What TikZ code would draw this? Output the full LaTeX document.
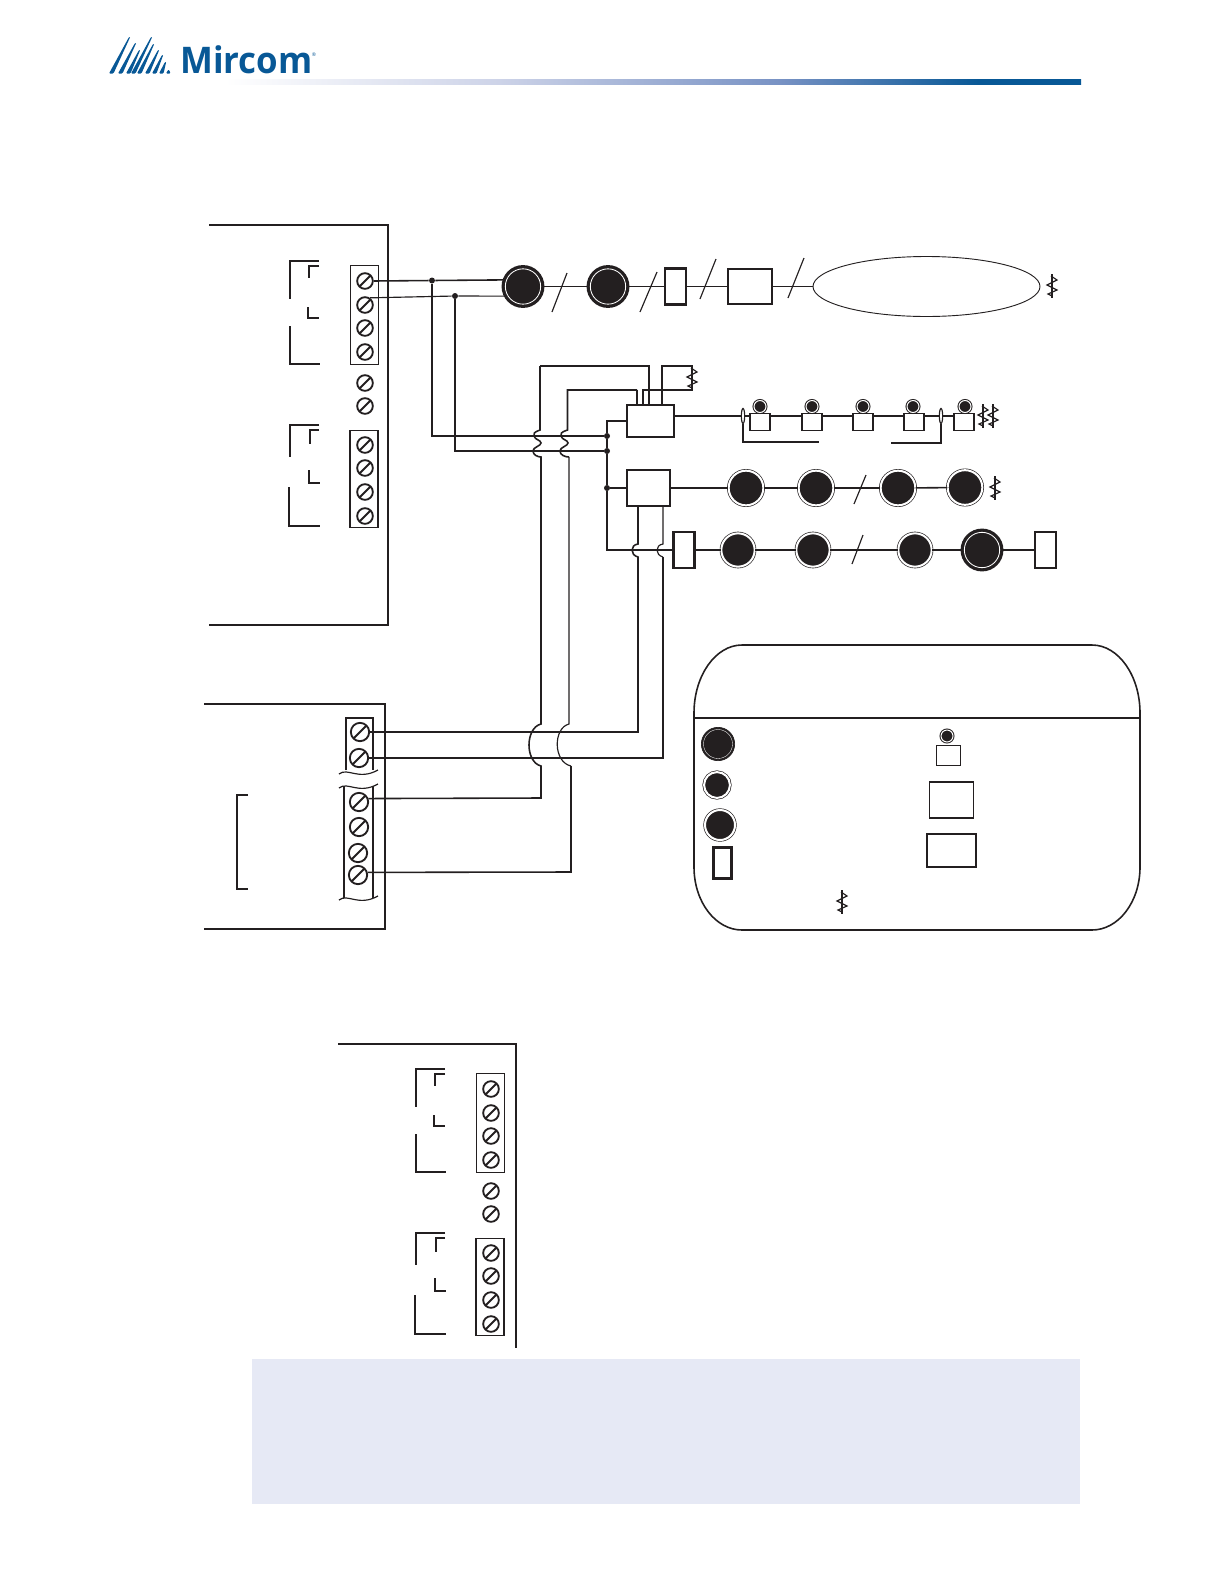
\documentclass[tikz,border=0pt]{standalone}
\usepackage{fontspec}
\setmainfont{Open Sans}
\usepackage{tikz}
\usetikzlibrary{shapes.geometric}
\definecolor{mirblue}{RGB}{8,88,150}
\definecolor{mirmid}{RGB}{120,146,196}
\definecolor{mirpale}{RGB}{205,211,232}
\definecolor{notefill}{RGB}{230,233,245}
\definecolor{devblack}{RGB}{35,31,32}
\pgfdeclarehorizontalshading{rulebar}{100bp}{color(0bp)=(white); color(25bp)=(white); color(41bp)=(mirpale); color(57.4bp)=(mirmid); color(69bp)=(mirblue); color(100bp)=(mirblue)}
\tikzset{
	wire/.style={devblack, line width=0.95pt},
	thinwire/.style={devblack, line width=0.7pt},
	slash/.style={devblack, line width=0.7pt},
	screw/.style={circle, draw=devblack, line width=1.1pt, inner sep=0pt, minimum size=9.4pt,
		path picture={\draw[devblack, line width=1.1pt](path picture bounding box.south west)--(path picture bounding box.north east);}},
	junction/.style={circle, fill=devblack, inner sep=0pt, minimum size=3.6pt},
	heavydev/.style={circle, fill=devblack, draw=devblack, line width=2pt, double=white, double distance=0.5pt, inner sep=0pt, minimum size=#1},
	ringdev/.style={circle, fill=devblack, draw=devblack, line width=0.4pt, double=white, double distance=1.2pt, inner sep=0pt, minimum size=#1},
	smalldet/.style={circle, fill=devblack, draw=devblack, line width=0.6pt, double=white, double distance=0.6pt, inner sep=0pt, minimum size=7.2pt},
	openbox/.style={rectangle, draw=devblack, line width=#1, fill=white, inner sep=0pt},
	pics/endres/.style={code={
		\draw[thinwire](0,-12)--(0,12);
		\draw[thinwire](-1,-10)--(5,-6)--(-5,-1)--(5,4)--(-4,8)--(0,10);
	}},
	pics/terms/.style={code={
		\node[openbox=0.55pt, minimum width=16.8pt, minimum height=59.4pt, fill=none](-top) at (364,315){};
		\node[openbox=0.7pt, minimum width=16.8pt, minimum height=58.2pt, fill=none](-low) at (364,479){};
		\foreach \y [count=\i] in {281,305,328,352}{\node[screw](-a\i) at (365,\y){};}
		\foreach \y [count=\i] in {383,406}{\node[screw](-f\i) at (365,\y){};}
		\foreach \y [count=\i] in {445,468,492,516}{\node[screw](-b\i) at (365,\y){};}
		\draw[wire](319,261)--(290,261)--(290,299);
		\draw[wire](290,326)--(290,364)--(320,364);
		\draw[wire](319,266)--(309,266)--(309,278);
		\draw[wire](308,307)--(308,318)--(319,318);
		\draw[wire](319,425)--(290,425)--(290,457);
		\draw[wire](289,487)--(289,526)--(320,526);
		\draw[wire](319,430)--(310,430)--(310,444);
		\draw[wire](309,470)--(309,483)--(320,483);
	}},
}

\begin{document}
\begin{tikzpicture}[x=0.6pt, y=-0.6pt]
\useasboundingbox (0,0) rectangle (1224,1584);

% header
\foreach \bx/\tx/\ty in {109/129/37,118/135/43,126/139/50,131/151/37,137/153/44,145/158/50,152/162/55,159/165/62,166/168/70}{
	\fill[mirblue, rounded corners=0.6pt](\bx,73.5)--(\bx+4.5,73.5)--(\tx+1.2,\ty)--(\tx,\ty)--cycle;
}
\node[inner sep=0pt, anchor=base west, text=mirblue, font=\fontsize{22}{22}\selectfont\bfseries](logotext) at (180,73){\scalebox{0.95}[1]{Mircom}};
\node[inner sep=0pt, text=mirblue, font=\fontsize{3}{3}\selectfont](logomark) at (314,55){®};
\shade[shading=rulebar](225,79) rectangle (1081,84);

% upper panel
\draw[wire](209,225)--(388,225)--(388,625)--(209,625);
\pic (pa) at (0,0) {terms};

% lower left panel
\draw[wire](204,704)--(385,704)--(385,929)--(204,929);
\draw[wire](346,770)--(346,718)--(373,718)--(373,770);
\draw[thinwire](344,786)--(344,898);
\draw[thinwire](373,786)--(373,898);
\foreach \y in {773,787,899}{
	\draw[thinwire](339,\y+1) .. controls (348,\y-6) and (358,\y+8) .. (378,\y-3);
}
\foreach \x/\y [count=\i] in {360/732,359/758,359/802,359/827,358/853,358/875}{
	\node[screw, minimum size=11pt, fill=white](pb\i) at (\x,\y){};
}
\draw[thinwire](248,795)--(237,795)--(237,889)--(248,889);

% third panel
\draw[wire](338,1044)--(516,1044)--(516,1348);
\begin{scope}[shift={(126,808)}]
\pic (pc) at (0,0) {terms};
\end{scope}

% top row
\node[heavydev=21.2pt](dva) at (523,286.5){};
\node[heavydev=21.2pt](dvb) at (608,286.5){};
\node[openbox=1.4pt, minimum width=12.6pt, minimum height=21.6pt](eola) at (675.5,286.5){};
\node[openbox=0.7pt, minimum width=26.4pt, minimum height=21pt](anna) at (750,286.5){};
\node[ellipse, draw=devblack, line width=0.55pt, fill=white, inner sep=0pt, minimum width=136.2pt, minimum height=36pt](cloud) at (926.5,286.5){};
\pic at (1052,286) {endres};
\node[junction](ja) at (432,280.5){};
\node[junction](jb) at (455,296){};
\draw[wire](pa-a1.east)--(ja)--(dva.160);
\draw[thinwire](pa-a2.55)--(jb)--(dva.210);
\draw[wire](dva)--(dvb);
\draw[wire](dvb)--(eola);
\draw[wire](eola)--(anna);
\draw[wire](anna)--(cloud);
\foreach \xa/\ya/\xb/\yb in {552/312/567/273,640/312/657/272,700/299/716/259,788/298/804/258,854/504/866/475,852/564/863/535}{
	\draw[slash](\xa,\ya)--(\xb,\yb);
}

% modules
\node[openbox=1.1pt, minimum width=28.2pt, minimum height=19.2pt](moda) at (650.5,421){};
\node[openbox=0.7pt, minimum width=25.8pt, minimum height=21.6pt](modb) at (648.5,488){};
\node[junction](jc) at (607,436){};
\node[junction](jd) at (607,451){};
\node[junction](je) at (607,488){};
\draw[wire](ja)|-(jc);
\draw[wire](jb)|-(jd);
\draw[wire](moda.west)-|(jc);
\draw[wire](jc)--(jd)--(je);
\draw[wire](je)--(modb);
\node[openbox=1.4pt, minimum width=12.6pt, minimum height=21.6pt](eolb) at (684,550){};
\draw[wire](je)|-(eolb.west);

% riser wires over the feed
\coordinate (upa) at (649,405);
\coordinate (upb) at (637,405);
\coordinate (upc) at (643,405);
\coordinate (upd) at (662,405);
\draw[thinwire](upa)--(649,366)--(540,366);
\draw[wire](540,366)--(540,430)
	.. controls (534,432) and (533,434) .. (534,436) .. controls (535,440) and (541,440) .. (541,443)
	.. controls (541,446) and (533,447) .. (533,451) .. controls (533,455) and (538,457) .. (541,457)
	--(541,724) .. controls (525,728) and (525,762) .. (541,766)--(541,798)--(pb3.20);
\draw[thinwire](upb)--(637,390);
\draw[wire](637,390)--(567.5,390)--(567.5,430)
	.. controls (561,432) and (560,434) .. (561,436) .. controls (562,440) and (568,440) .. (568,443)
	.. controls (568,446) and (560,447) .. (560,451) .. controls (560,455) and (565,457) .. (569,457);
\draw[thinwire](569,457)--(569,724) .. controls (553,728) and (553,762) .. (571,766);
\draw[wire](571,766)--(571,872)--(pb6.15);
\draw[thinwire](upc)--(643,390)--(692,390)--(692,366)--(662,366)--(upd);
\pic at (692,378) {endres};

% wires back from the lower panel
\draw[wire](pb1.east)--(638,732)--(638,557) .. controls (630,555) and (630,545) .. (638,544)--(638,506);
\draw[wire](pb2.east)--(663,758)--(663,557);
\draw[thinwire](663,557) .. controls (655,555) and (655,545) .. (663,544)--(663,506);

% addressable row
\foreach \bx/\dx [count=\i] in {760/760,812/812,863/863,914/913,964/965}{
	\node[openbox=0.7pt, minimum width=12pt, minimum height=10.5pt](bs\i) at (\bx,422){};
	\node[smalldet](dt\i) at (\dx,406.5){};
}
\node[ellipse, draw=devblack, line width=0.7pt, inner sep=0pt, minimum width=2pt, minimum height=9pt](gapa) at (743,416){};
\node[ellipse, draw=devblack, line width=0.7pt, inner sep=0pt, minimum width=2pt, minimum height=9pt](gapb) at (941,416){};
\draw[thinwire](moda.east|-gapa)--(gapa);
\draw[thinwire](gapa)--(bs1.west|-gapa);
\draw[wire](bs1.east|-gapa)--(bs2.west|-gapa);
\draw[thinwire](bs2.east|-gapa)--(bs3.west|-gapa);
\draw[thinwire](bs3.east|-gapa)--(bs4.west|-gapa);
\draw[thinwire](bs4.east|-gapa)--(gapb);
\draw[thinwire](gapb)--(bs5.west|-gapb);
\draw[wire](gapa.south)|-(819,442);
\draw[thinwire](gapb.south)|-(891,443);
\pic at (983,416) {endres};
\pic at (993,416) {endres};

% third row
\foreach \x/\y [count=\i] in {746/488,816/488,898/488,965/487.5}{
	\node[ringdev=20.8pt](rc\i) at (\x,\y){};
}
\draw[wire](modb)--(rc1);
\draw[wire](rc1)--(rc2);
\draw[wire](rc2)--(rc3);
\draw[wire](rc3)--(rc4);
\pic at (995,488) {endres};

% fourth row
\foreach \x/\y [count=\i] in {738/550,813/550,915/550}{
	\node[ringdev=20pt](rd\i) at (\x,\y){};
}
\node[heavydev=21.2pt](rd4) at (982,550){};
\node[openbox=1.1pt, minimum width=12.6pt, minimum height=21.6pt](eolc) at (1045.5,550){};
\draw[wire](eolb)--(rd1);
\draw[wire](rd1)--(rd2);
\draw[wire](rd2)--(rd3);
\draw[wire](rd3)--(rd4);
\draw[wire](rd4)--(eolc);

% legend
\draw[wire](694,713) .. controls (694,675.6) and (715.6,645) .. (742,645)--(1092,645)
	.. controls (1118.4,645) and (1140,675.6) .. (1140,713)--(1140,867)
	.. controls (1140,902) and (1118.4,930) .. (1092,930)--(742,930)
	.. controls (715.6,930) and (694,902) .. (694,867)--cycle;
\draw[wire](694,718)--(1140,718);
\node[circle, fill=devblack, draw=devblack, line width=0.4pt, inner sep=0pt, minimum size=20pt](lga) at (718,744){};
\draw[white, line width=0.2pt](lga) circle (14.5);
\node[ringdev=15.5pt](lgb) at (717,785){};
\node[ringdev=18pt](lgc) at (720,825){};
\node[openbox=1.4pt, minimum width=10.8pt, minimum height=18.6pt](lgd) at (722.5,863){};
\node[smalldet](lge) at (947,736){};
\node[openbox=0.55pt, minimum width=14.4pt, minimum height=12pt](lgf) at (948,755){};
\node[openbox=0.95pt, minimum width=26.4pt, minimum height=21.6pt](lgg) at (951.5,800){};
\node[openbox=0.95pt, minimum width=29.4pt, minimum height=19.8pt](lgh) at (951.5,850.5){};
\pic at (842,902) {endres};

% note panel
\node[rectangle, fill=notefill, inner sep=0pt, minimum width=496.8pt, minimum height=87pt](note) at (666,1431.5){};
\end{tikzpicture}
\end{document}
